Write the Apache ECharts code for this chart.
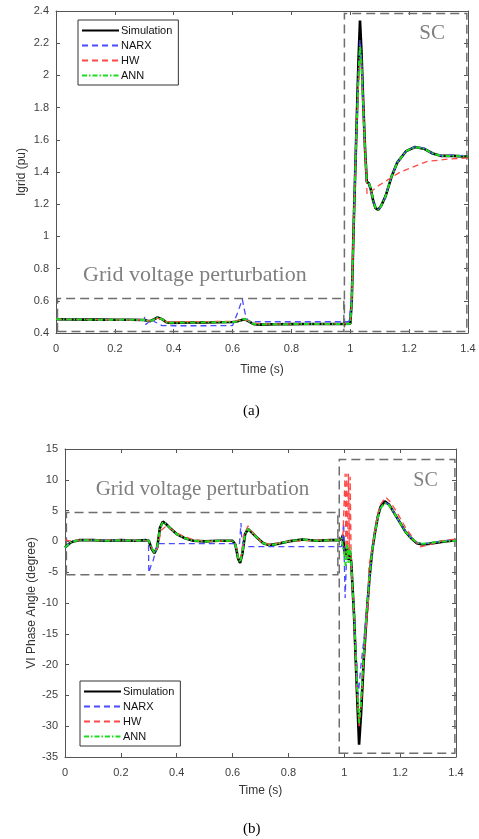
<!DOCTYPE html>
<html>
<head>
<meta charset="utf-8">
<script src="https://cdn.jsdelivr.net/npm/echarts@6/dist/echarts.min.js"></script>
<style>
  html, body { margin: 0; padding: 0; background: #fff; }
  #main { width: 479px; height: 839px; }
</style>
</head>
<body>
<div id="main"></div>
<script>
const seriesNames = ['Simulation', 'NARX', 'HW', 'ANN']
const timeTicks = [0, 0.2, 0.4, 0.6, 0.8, 1, 1.2, 1.4]

// (a) Igrid (pu)
const tSimA = [0, 0.05, 0.1, 0.15, 0.2, 0.25, 0.3, 0.31, 0.32, 0.33, 0.345, 0.36, 0.375, 0.39, 0.45, 0.5, 0.55, 0.6, 0.61, 0.625, 0.64, 0.655, 0.67, 0.69, 0.75, 0.8, 0.85, 0.9, 0.95, 0.98, 1.0, 1.005, 1.012, 1.02, 1.028, 1.033, 1.038, 1.044, 1.05, 1.056, 1.063, 1.07, 1.078, 1.086, 1.095, 1.105, 1.12, 1.14, 1.16, 1.19, 1.22, 1.25, 1.28, 1.31, 1.35, 1.4]
const simA = [0.485, 0.484, 0.483, 0.483, 0.482, 0.482, 0.481, 0.476, 0.474, 0.482, 0.497, 0.486, 0.467, 0.463, 0.465, 0.466, 0.467, 0.468, 0.47, 0.478, 0.486, 0.472, 0.456, 0.452, 0.454, 0.455, 0.456, 0.456, 0.456, 0.456, 0.458, 0.6, 1.1, 1.6, 2.1, 2.34, 2.15, 1.83, 1.55, 1.34, 1.33, 1.29, 1.22, 1.175, 1.165, 1.19, 1.25, 1.37, 1.46, 1.53, 1.555, 1.545, 1.515, 1.5, 1.5, 1.495]
const annA = [0.485, 0.484, 0.483, 0.483, 0.482, 0.482, 0.481, 0.476, 0.474, 0.482, 0.496, 0.486, 0.467, 0.463, 0.465, 0.466, 0.467, 0.468, 0.47, 0.478, 0.488, 0.474, 0.457, 0.453, 0.455, 0.455, 0.456, 0.456, 0.456, 0.456, 0.458, 0.6, 1.1, 1.6, 2.0, 2.18, 2.08, 1.8, 1.55, 1.34, 1.33, 1.3, 1.22, 1.175, 1.165, 1.19, 1.25, 1.37, 1.46, 1.53, 1.555, 1.545, 1.515, 1.5, 1.5, 1.497]
const tNarxA = [0, 0.1, 0.2, 0.3, 0.301, 0.302, 0.31, 0.325, 0.335, 0.36, 0.4, 0.5, 0.6, 0.605, 0.62, 0.633, 0.645, 0.655, 0.7, 0.8, 0.9, 0.995, 1.005, 1.012, 1.02, 1.028, 1.033, 1.038, 1.044, 1.05, 1.056, 1.063, 1.07, 1.078, 1.086, 1.095, 1.105, 1.12, 1.14, 1.16, 1.19, 1.22, 1.25, 1.28, 1.31, 1.35, 1.4]
const narxA = [0.485, 0.483, 0.482, 0.481, 0.5, 0.45, 0.46, 0.49, 0.47, 0.446, 0.445, 0.445, 0.446, 0.45, 0.54, 0.61, 0.5, 0.47, 0.47, 0.47, 0.47, 0.47, 0.6, 1.1, 1.6, 2.05, 2.22, 2.12, 1.83, 1.55, 1.34, 1.33, 1.29, 1.22, 1.175, 1.165, 1.19, 1.25, 1.37, 1.46, 1.53, 1.558, 1.548, 1.515, 1.5, 1.505, 1.5]
const tHwA = [0, 0.1, 0.2, 0.3, 0.31, 0.32, 0.33, 0.345, 0.36, 0.375, 0.4, 0.5, 0.6, 0.62, 0.64, 0.655, 0.67, 0.7, 0.8, 0.9, 0.98, 1.0, 1.005, 1.012, 1.02, 1.028, 1.033, 1.038, 1.044, 1.05, 1.057, 1.1, 1.17, 1.26, 1.33, 1.4]
const hwA = [0.485, 0.483, 0.482, 0.481, 0.476, 0.475, 0.482, 0.492, 0.484, 0.47, 0.47, 0.471, 0.472, 0.478, 0.482, 0.476, 0.462, 0.456, 0.456, 0.457, 0.457, 0.458, 0.6, 1.1, 1.6, 1.95, 2.1, 2.05, 1.8, 1.55, 1.26, 1.32, 1.40, 1.465, 1.48, 1.488]

// (b) VI Phase Angle (degree)
const tSimB = [0, 0.01, 0.02, 0.03, 0.05, 0.1, 0.15, 0.2, 0.25, 0.29, 0.3, 0.31, 0.32, 0.33, 0.34, 0.35, 0.36, 0.38, 0.4, 0.43, 0.46, 0.5, 0.55, 0.6, 0.61, 0.62, 0.627, 0.635, 0.645, 0.655, 0.67, 0.69, 0.71, 0.73, 0.76, 0.8, 0.85, 0.9, 0.95, 0.98, 0.99, 0.995, 1.0, 1.005, 1.01, 1.015, 1.02, 1.025, 1.035, 1.045, 1.053, 1.06, 1.07, 1.08, 1.09, 1.1, 1.11, 1.12, 1.13, 1.145, 1.16, 1.18, 1.2, 1.22, 1.24, 1.26, 1.28, 1.3, 1.33, 1.36, 1.4]
const simB = [-1.0, -0.6, -0.2, 0.0, 0.2, 0.2, 0.1, 0.2, 0.1, 0.2, 0.1, -1.2, -1.9, -1.0, 2.2, 3.2, 2.9, 2.0, 1.2, 0.5, 0.1, 0.0, 0.1, 0.1, -0.5, -2.8, -3.5, -2.0, 1.2, 2.0, 1.4, 0.5, -0.3, -0.6, -0.4, 0.0, 0.3, 0.1, 0.2, 0.2, 0.4, 1.0, -1.5, -2.5, -1.0, -3.0, -1.5, -3.5, -12, -24, -33, -28, -19, -12, -6, -1.5, 1.5, 4.0, 5.6, 6.5, 6.0, 4.5, 3.0, 1.5, 0.5, -0.3, -0.5, -0.4, -0.2, 0.0, 0.2]
const annB = [-1.0, -0.6, -0.2, 0.0, 0.2, 0.2, 0.1, 0.2, 0.1, 0.2, 0.1, -1.1, -1.8, -0.9, 2.1, 3.1, 2.9, 2.0, 1.2, 0.5, 0.1, 0.0, 0.1, 0.1, -0.5, -2.7, -3.4, -1.9, 1.2, 2.0, 1.4, 0.5, -0.3, -0.6, -0.4, 0.0, 0.3, 0.1, 0.2, 0.2, 0.5, 0.8, -2.0, -4.0, -0.5, -3.5, -1.0, -3.5, -12, -23, -29.5, -26, -18, -11.5, -6, -1.5, 1.4, 3.8, 5.4, 6.2, 5.9, 4.5, 3.0, 1.5, 0.5, -0.2, -0.4, -0.3, -0.1, 0.0, 0.1]
const tNarxB = [0, 0.01, 0.02, 0.03, 0.05, 0.1, 0.2, 0.299, 0.3, 0.305, 0.31, 0.315, 0.32, 0.325, 0.33, 0.4, 0.5, 0.6, 0.625, 0.63, 0.632, 0.64, 0.7, 0.8, 0.9, 0.99, 0.998, 1.0, 1.003, 1.008, 1.015, 1.025, 1.035, 1.045, 1.05, 1.056, 1.06, 1.07, 1.08, 1.09, 1.1, 1.11, 1.12, 1.13, 1.145, 1.16, 1.18, 1.2, 1.22, 1.24, 1.26, 1.28, 1.3, 1.33, 1.36, 1.4]
const narxB = [-1.0, -0.6, -0.2, 0.0, 0.2, 0.2, 0.2, 0.1, -5.1, -5.0, -3.6, -3.2, -3.0, -1.5, -0.35, -0.35, -0.35, -0.35, -0.35, 3.0, 1.0, -0.85, -0.85, -0.85, -0.85, -0.85, 3.0, -3.0, -9.2, -3.0, -2.5, -4.0, -12, -20, -25, -22, -20, -16, -11, -6, -1.5, 1.5, 4.0, 5.5, 6.4, 6.0, 4.6, 3.0, 1.6, 0.6, -0.2, -0.4, -0.3, -0.1, 0.1, 0.3]
const tHwB = [0, 0.02, 0.05, 0.1, 0.2, 0.3, 0.31, 0.32, 0.33, 0.345, 0.36, 0.38, 0.4, 0.45, 0.5, 0.6, 0.61, 0.62, 0.628, 0.64, 0.655, 0.67, 0.7, 0.73, 0.8, 0.9, 0.98, 0.995, 1.0, 1.003, 1.006, 1.009, 1.012, 1.015, 1.018, 1.021, 1.025, 1.035, 1.045, 1.053, 1.06, 1.07, 1.08, 1.084, 1.086, 1.088, 1.1, 1.11, 1.12, 1.13, 1.148, 1.165, 1.19, 1.22, 1.25, 1.27, 1.3, 1.35, 1.4]
const hwB = [0.2, 0.1, 0.2, 0.2, 0.2, 0.1, -1.0, -1.8, -1.2, 1.8, 2.4, 2.0, 1.3, 0.4, 0.0, 0.1, -0.4, -2.6, -3.2, 1.0, 2.5, 1.6, 0.0, -0.5, 0.0, 0.2, 0.2, 0.6, 0.5, 11, -2, 11, -3, 11, -2, 10.5, -4, -12, -24, -30, -27, -19, -13, -10, -11.2, -4, -1.2, 2.0, 4.5, 6.0, 7.2, 6.4, 4.6, 2.2, 0.3, -0.9, -0.6, 0.1, 0.4]

// dashed boxes: [x0, y0, x1, y1]
const boxGridA = [0.005, 0.41, 0.978, 0.615]
const boxScA = [0.98, 0.41, 1.396, 2.385]
const boxGridB = [0.005, -5.4, 0.977, 4.7]
const boxScB = [0.982, -34.4, 1.396, 13.3]
// annotation text centres
const noteGridA = [0.472, 0.76]
const noteScA = [1.278, 2.263]
const noteGridB = [0.492, 8.5]
const noteScB = [1.291, 9.8]

const pair = (t, v) => t.map((x, i) => [x, v[i]])

const axisColor = '#555'
const tickFont = { color: '#404040', fontSize: 11, fontFamily: 'Liberation Sans, Arial' }

function xAxes (grid, gap) {
  return [{
    type: 'value', gridIndex: grid, min: 0, max: 1.4, interval: 0.2, position: 'bottom',
    name: 'Time (s)', nameLocation: 'middle', nameGap: gap,
    nameTextStyle: { color: '#333', fontSize: 12, fontFamily: 'Liberation Sans, Arial' },
    axisLine: { onZero: false, lineStyle: { color: axisColor } },
    axisTick: { inside: true, length: 4, lineStyle: { color: axisColor } },
    axisLabel: Object.assign({ margin: 10 }, tickFont),
    splitLine: { show: false }
  }, {
    type: 'value', gridIndex: grid, min: 0, max: 1.4, interval: 0.2, position: 'top',
    axisLine: { onZero: false, lineStyle: { color: axisColor } },
    axisTick: { inside: true, length: 4, lineStyle: { color: axisColor } },
    axisLabel: { show: false },
    splitLine: { show: false }
  }]
}

function yAxes (grid, min, max, interval, name, gap) {
  return [{
    type: 'value', gridIndex: grid, min: min, max: max, interval: interval, position: 'left',
    name: name, nameLocation: 'middle', nameGap: gap, nameMoveOverlap: false,
    nameTextStyle: { color: '#333', fontSize: 12, fontFamily: 'Liberation Sans, Arial' },
    axisLine: { show: true, onZero: false, lineStyle: { color: axisColor } },
    axisTick: { show: true, inside: true, length: 4, lineStyle: { color: axisColor } },
    axisLabel: Object.assign({ margin: 7 }, tickFont),
    splitLine: { show: false }
  }, {
    type: 'value', gridIndex: grid, min: min, max: max, interval: interval, position: 'right',
    axisLine: { show: true, onZero: false, lineStyle: { color: axisColor } },
    axisTick: { show: true, inside: true, length: 4, lineStyle: { color: axisColor } },
    axisLabel: { show: false },
    splitLine: { show: false }
  }]
}

const boxStyle = { color: 'rgba(0,0,0,0)', borderColor: '#6e6e6e', borderWidth: 1.5, borderType: [9, 5] }
const noteFont = { color: '#7f7f7f', fontFamily: 'Liberation Serif, Times New Roman' }

function boxes (b1, b2) {
  return {
    silent: true,
    itemStyle: boxStyle,
    label: { show: false },
    data: [
      [{ coord: [b1[0], b1[1]] }, { coord: [b1[2], b1[3]] }],
      [{ coord: [b2[0], b2[1]] }, { coord: [b2[2], b2[3]] }]
    ]
  }
}

function notes (p1, p2, size1, size2) {
  return {
    silent: true,
    symbol: 'circle',
    symbolSize: 0,
    data: [
      { name: 'Grid voltage perturbation', coord: p1, label: Object.assign({ fontSize: size1 }, noteFont) },
      { name: 'SC', coord: p2, label: Object.assign({ fontSize: size2 }, noteFont) }
    ],
    label: { show: true, position: 'inside', formatter: '{b}' }
  }
}

const styles = {
  Simulation: { color: '#000', width: 2.6, type: 'solid' },
  NARX: { color: '#4b4bff', width: 1.3, type: [6, 4] },
  HW: { color: '#ff4848', width: 1.3, type: [6, 4] },
  ANN: { color: '#1fdc1f', width: 2, type: [5, 2, 1.5, 2] }
}

function makeSeries (name, data, xi, yi, extra) {
  const st = styles[name]
  return Object.assign({
    name: name,
    type: 'line',
    xAxisIndex: xi,
    yAxisIndex: yi,
    data: data,
    symbol: 'none',
    showSymbol: false,
    color: st.color,
    lineStyle: { color: st.color, width: st.width, type: st.type },
    emphasis: { disabled: true }
  }, extra || {})
}

function legendAt (left, top) {
  return {
    data: seriesNames,
    orient: 'vertical',
    left: left,
    top: top,
    itemWidth: 37,
    itemHeight: 10,
    itemGap: 4,
    padding: [5, 6, 4, 3],
    borderColor: '#333',
    borderWidth: 1,
    borderRadius: 0,
    backgroundColor: '#fff',
    selectedMode: false,
    // hide the marker dot, keep only the line sample
    itemStyle: { color: 'rgba(0,0,0,0)', borderWidth: 0, opacity: 0 },
    textStyle: { color: '#111', fontSize: 11, fontFamily: 'Liberation Sans, Arial', padding: [0, 0, 0, -3] }
  }
}

const myChart = echarts.init(document.getElementById('main'), null, { renderer: 'canvas' })

const option = {
  animation: false,
  backgroundColor: '#fff',
  grid: [
    { left: 56, top: 11, width: 412, height: 322 },
    { left: 65, top: 449, width: 391, height: 308 }
  ],
  xAxis: xAxes(0, 31).concat(xAxes(1, 28)),
  yAxis: yAxes(0, 0.4, 2.4, 0.2, 'Igrid (pu)', 28).concat(yAxes(1, -35, 15, 5, 'VI Phase Angle (degree)', 27)),
  legend: [legendAt(78, 20), legendAt(80, 681)],
  graphic: [
    { type: 'text', left: 243, top: 404, style: { text: '(a)', fill: '#000', font: '15px "Liberation Serif", "Times New Roman"' } },
    { type: 'text', left: 243, top: 822, style: { text: '(b)', fill: '#000', font: '15px "Liberation Serif", "Times New Roman"' } }
  ],
  series: [
    makeSeries('Simulation', pair(tSimA, simA), 0, 0, { markArea: boxes(boxGridA, boxScA), markPoint: notes(noteGridA, noteScA, 22, 21) }),
    makeSeries('NARX', pair(tNarxA, narxA), 0, 0),
    makeSeries('HW', pair(tHwA, hwA), 0, 0),
    makeSeries('ANN', pair(tSimA, annA), 0, 0),
    makeSeries('Simulation', pair(tSimB, simB), 2, 2, { markArea: boxes(boxGridB, boxScB), markPoint: notes(noteGridB, noteScB, 21, 20) }),
    makeSeries('NARX', pair(tNarxB, narxB), 2, 2),
    makeSeries('HW', pair(tHwB, hwB), 2, 2),
    makeSeries('ANN', pair(tSimB, annB), 2, 2)
  ]
}

myChart.setOption(option)
</script>
</body>
</html>
